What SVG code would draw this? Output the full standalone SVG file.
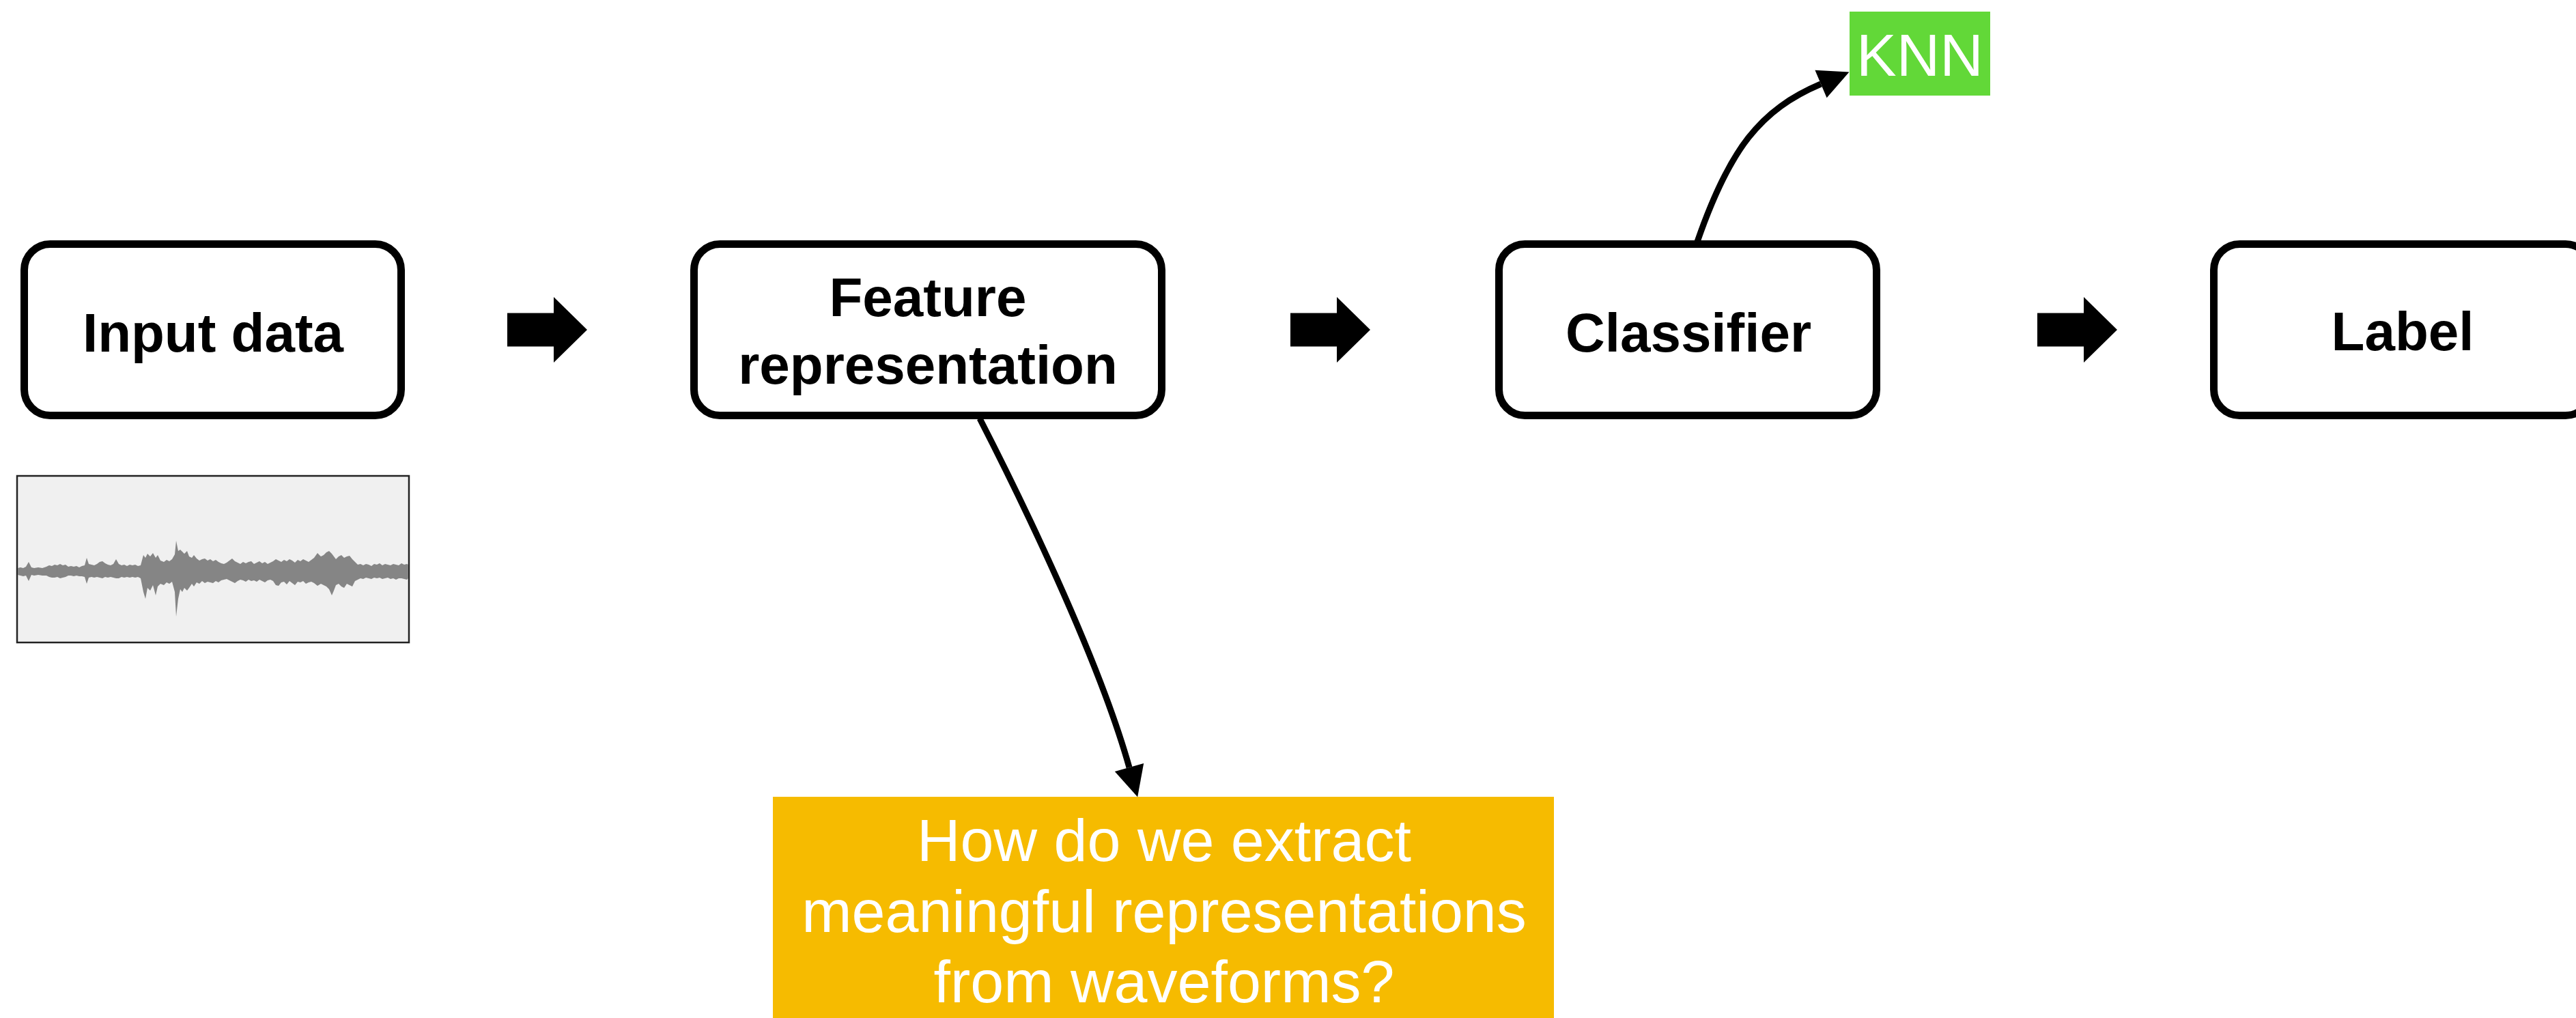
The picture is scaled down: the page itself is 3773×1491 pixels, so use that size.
<svg xmlns="http://www.w3.org/2000/svg" width="3773" height="1491" viewBox="0 0 3773 1491">
  <style>
    .box { fill: #ffffff; stroke: #000000; stroke-width: 11; }
    .title { font-family: "Liberation Sans", Arial, Helvetica, sans-serif; font-weight: bold; font-size: 80px; fill: #000000; text-anchor: middle; }
    .note { font-family: "Liberation Sans", Arial, Helvetica, sans-serif; font-size: 88px; fill: #ffffff; text-anchor: middle; }
    .block { fill: #000000; }
    .link { fill: none; stroke: #000000; stroke-width: 9; }
  </style>
  <defs>
    <!-- filled block arrow, origin at the left middle of the shaft -->
    <path id="blockArrow" d="M0,-24.5 H68 V-48 L117,0 L68,48 V24.5 H0 Z"/>
    <marker id="head" markerUnits="userSpaceOnUse" markerWidth="50" markerHeight="50" refX="0" refY="22" orient="auto" overflow="visible">
      <path d="M0,0 L45,22 L0,44 Z" fill="#000000"/>
    </marker>
  </defs>

  <rect width="3773" height="1491" fill="#ffffff"/>

  <g id="input-data">
    <rect class="box" x="35.5" y="357.5" width="552" height="251" rx="38" ry="38"/>
    <text class="title" x="312" y="515">Input data</text>
  </g>

  <g id="waveform">
    <rect x="25" y="697" width="574" height="244" fill="#f0f0f0" stroke="#222222" stroke-width="2.5"/>
    <polygon fill="#858585" points="26,832 30,831 34,832 38,830 42,823 46,831 50,832 56,831 62,832 68,830 72,828 76,829 80,827 84,828 88,826 92,828 96,827 100,830 104,829 108,830 112,829 116,831 120,829 124,828 127,817 130,826 134,827 138,828 142,826 146,823 150,822 154,825 158,827 162,828 166,826 170,819 174,826 178,828 182,827 186,829 190,827 194,828 198,827 202,829 206,828 210,813 213,817 216,811 220,815 224,810 228,817 231,813 235,821 240,823 244,820 248,822 252,819 256,812 258,792 261,807 264,805 267,808 270,811 274,807 277,815 281,817 284,813 288,818 292,821 296,819 300,818 304,821 308,819 312,822 316,820 320,823 324,825 328,826 332,824 336,821 340,818 344,822 348,824 352,826 356,823 360,825 364,823 368,822 372,826 376,824 380,822 384,825 388,823 392,826 396,824 400,822 404,819 408,821 412,823 416,820 420,822 424,819 428,821 432,824 436,820 440,822 444,819 448,821 452,823 456,820 460,817 465,810 470,815 474,813 478,809 482,807 486,811 489,815 492,819 496,815 500,813 504,817 508,815 512,814 516,819 520,823 524,827 528,826 532,828 536,826 540,827 544,829 548,826 552,827 556,825 560,828 564,826 568,827 572,828 576,826 580,827 584,828 588,825 592,827 596,826 598,827 598,847 596,849 592,848 588,847 584,847 580,849 576,847 572,848 568,846 564,847 560,848 556,846 552,847 548,846 544,848 540,847 536,846 532,848 528,847 524,849 520,851 516,859 512,857 508,855 504,861 500,859 496,855 492,857 489,865 486,872 482,863 478,859 474,857 470,855 465,858 460,854 456,852 452,853 448,855 444,851 440,853 436,852 432,857 428,854 424,851 420,856 416,852 412,853 408,858 404,857 400,851 396,849 392,850 388,853 384,851 380,849 376,852 372,850 368,851 364,849 360,852 356,850 352,849 348,851 344,854 340,852 336,850 332,848 328,849 324,850 320,853 316,851 312,854 308,853 304,852 300,854 296,851 292,855 288,853 284,859 281,855 277,861 274,865 270,861 267,867 264,863 261,877 258,903 256,867 252,852 248,855 244,853 240,857 235,855 231,859 228,872 224,857 220,865 216,861 213,877 210,867 206,847 202,845 198,846 194,845 190,846 186,845 182,846 178,845 174,847 170,847 166,846 162,845 158,846 154,845 150,847 146,846 142,845 138,846 134,845 130,846 127,855 124,845 120,844 116,844 112,843 108,844 104,843 100,843 96,845 92,846 88,847 84,845 80,846 76,846 72,845 68,843 62,843 56,842 50,843 46,842 42,851 38,843 34,844 30,843 26,842"/>
  </g>

  <g id="feature-representation">
    <rect class="box" x="1016.5" y="357.5" width="685" height="251" rx="38" ry="38"/>
    <text class="title" x="1359" y="463">Feature</text>
    <text class="title" x="1359" y="562">representation</text>
  </g>

  <g id="classifier">
    <rect class="box" x="2195.5" y="357.5" width="553" height="251" rx="38" ry="38"/>
    <text class="title" x="2473" y="515">Classifier</text>
  </g>

  <g id="label">
    <rect class="box" x="3242.5" y="357.5" width="553" height="251" rx="38" ry="38"/>
    <text class="title" x="3519" y="513">Label</text>
  </g>

  <g id="knn">
    <rect x="2709" y="17" width="206" height="123" fill="#62d838"/>
    <text class="note" x="2812" y="111" font-size="82">KNN</text>
  </g>

  <g id="question">
    <rect x="1132" y="1167" width="1144" height="330" fill="#f6bb00"/>
    <text class="note" x="1705" y="1261">How do we extract</text>
    <text class="note" x="1705" y="1365">meaningful representations</text>
    <text class="note" x="1705" y="1468">from waveforms?</text>
  </g>

  <g id="connectors">
    <use href="#blockArrow" class="block" transform="translate(743,483)"/>
    <use href="#blockArrow" class="block" transform="translate(1890,483)"/>
    <use href="#blockArrow" class="block" transform="translate(2984,483)"/>
    <path class="link" d="M1435,613 C1490,720 1608,960 1654,1124" marker-end="url(#head)"/>
    <path class="link" d="M2486,354 C2533,218 2578.5,160.5 2667,123" marker-end="url(#head)"/>
  </g>
</svg>
